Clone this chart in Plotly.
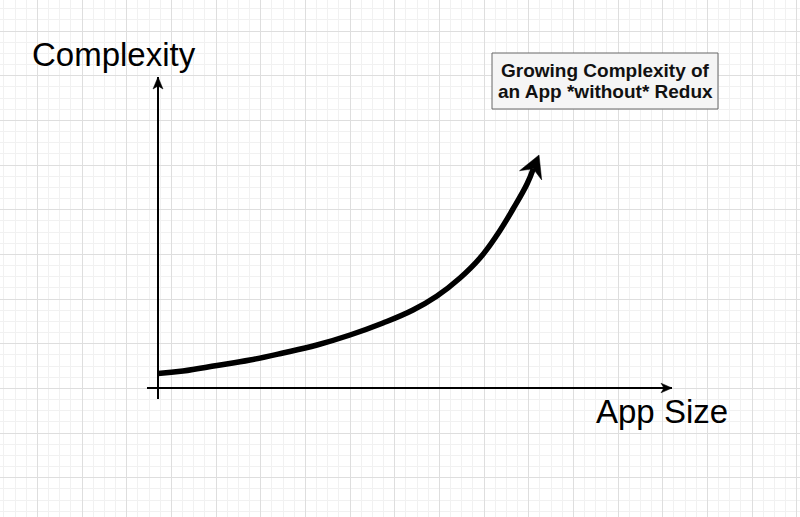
import numpy as np
import plotly.graph_objects as go

# ---- data (origin at the axes' intersection) ----
app_size = [0, 25, 59, 92, 125, 159, 192, 225, 255, 279, 302, 322, 339, 355, 369, 381]
complexity = [14.5, 17, 22.5, 28, 35, 43, 53, 65, 78, 92, 110, 130, 153, 179, 204, 233]

x_axis_label = "App Size"
y_axis_label = "Complexity"
title_lines = ["Growing Complexity of", "an App *without* Redux"]

# axis extents (data units)
x_axis_span = [-11, 514]
y_axis_span = [-11, 311]

FONT = "Liberation Sans, Arial, Helvetica, sans-serif"


def arrow_head(tx, ty, ux, uy, length, half_w, notch):
    n = np.hypot(ux, uy)
    ux, uy = ux / n, uy / n
    px, py = -uy, ux
    bx, by = tx - length * ux, ty - length * uy
    xs = [tx, bx + half_w * px, tx - notch * ux, bx - half_w * px, tx]
    ys = [ty, by + half_w * py, ty - notch * uy, by - half_w * py, ty]
    return xs, ys, (tx - notch * ux, ty - notch * uy)


fig = go.Figure()

# axes
fig.add_trace(go.Scatter(x=x_axis_span, y=[0, 0], mode="lines",
                         line=dict(color="black", width=2), hoverinfo="skip"))
fig.add_trace(go.Scatter(x=[0, 0], y=y_axis_span, mode="lines",
                         line=dict(color="black", width=2), hoverinfo="skip"))
hx, hy, _ = arrow_head(x_axis_span[1], 0, 1, 0, 11, 4.8, 8)
fig.add_trace(go.Scatter(x=hx, y=hy, mode="lines", fill="toself", fillcolor="black",
                         line=dict(color="black", width=0.5), hoverinfo="skip"))
hx, hy, _ = arrow_head(0, y_axis_span[1], 0, 1, 12, 5, 9)
fig.add_trace(go.Scatter(x=hx, y=hy, mode="lines", fill="toself", fillcolor="black",
                         line=dict(color="black", width=0.5), hoverinfo="skip"))

# curve
ux = app_size[-1] - app_size[-2]
uy = complexity[-1] - complexity[-2]
hx, hy, notch = arrow_head(app_size[-1], complexity[-1], ux, uy, 22, 12, 15)
cx = list(app_size[:-1]) + [notch[0]]
cy = list(complexity[:-1]) + [notch[1]]
fig.add_trace(go.Scatter(x=cx, y=cy, mode="lines",
                         line=dict(color="black", width=5.5, shape="spline", smoothing=1.2),
                         hoverinfo="skip"))
fig.add_trace(go.Scatter(x=hx, y=hy, mode="lines", fill="toself", fillcolor="black",
                         line=dict(color="black", width=0.5), hoverinfo="skip"))

# labels
fig.add_annotation(x=-44, y=334, text=y_axis_label, showarrow=False,
                   font=dict(family=FONT, size=33, color="black"),
                   xanchor="center", yanchor="middle")
fig.add_annotation(x=504, y=-23, text=x_axis_label, showarrow=False,
                   font=dict(family=FONT, size=33, color="black"),
                   xanchor="center", yanchor="middle")

# title box
fig.add_shape(type="rect", x0=334, x1=560, y0=279, y1=335,
              fillcolor="#f5f5f5", line=dict(color="#666666", width=1), layer="above")
for i, (t, yy) in enumerate(zip(title_lines, [318, 296.5])):
    fig.add_annotation(x=447, y=yy, text="<b>" + t + "</b>", showarrow=False,
                       font=dict(family=FONT, size=19, color="#111111"),
                       xanchor="center", yanchor="middle")

grid_step = 44.67
fig.update_layout(
    width=800, height=517,
    margin=dict(l=0, r=0, t=0, b=0),
    paper_bgcolor="white", plot_bgcolor="white",
    showlegend=False,
    xaxis=dict(range=[-158, 642], showticklabels=False, ticks="", zeroline=False,
               showline=False, showgrid=True, gridcolor="#dedede", gridwidth=1,
               tick0=-120.67, dtick=grid_step, fixedrange=True,
               minor=dict(showgrid=True, gridcolor="#f1f1f1", gridwidth=1,
                          tick0=-120.67, dtick=grid_step / 4, ticks="")),
    yaxis=dict(range=[-129, 388], showticklabels=False, ticks="", zeroline=False,
               showline=False, showgrid=True, gridcolor="#dedede", gridwidth=1,
               tick0=357, dtick=grid_step, fixedrange=True,
               minor=dict(showgrid=True, gridcolor="#f1f1f1", gridwidth=1,
                          tick0=357, dtick=grid_step / 4, ticks="")),
)

fig.write_html("out.html",
               config={"displayModeBar": False},
               post_script="document.body.style.margin='0';document.body.style.overflow='hidden';")
